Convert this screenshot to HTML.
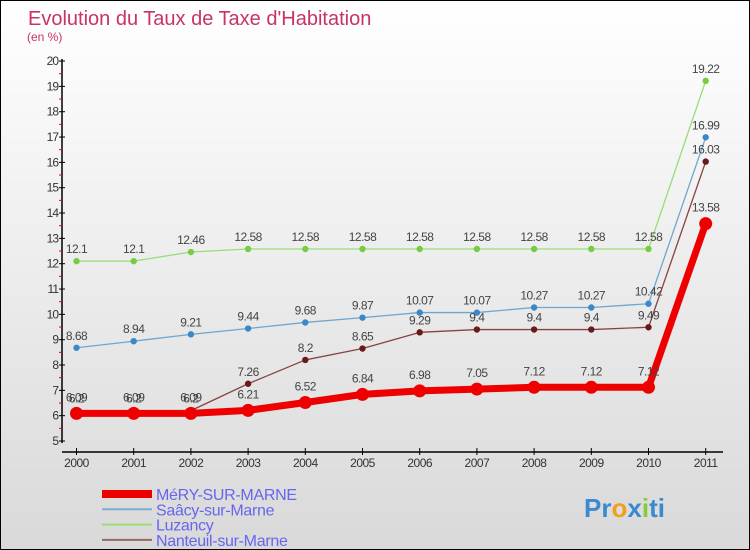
<!DOCTYPE html>
<html><head><meta charset="utf-8"><style>
body{margin:0}
#c{position:relative;width:748px;height:548px;border:1px solid #000;background:linear-gradient(#fff,#d9d9d9);font-family:"Liberation Sans",sans-serif;overflow:hidden}
</style></head><body>
<div id="c">
<svg id="s" width="748" height="548" style="position:absolute;left:0;top:0"></svg>
</div>
<script>
const years=["2000","2001","2002","2003","2004","2005","2006","2007","2008","2009","2010","2011"];
const yTicks=[5,6,7,8,9,10,11,12,13,14,15,16,17,18,19,20];
const mery=[6.09,6.09,6.09,6.21,6.52,6.84,6.98,7.05,7.12,7.12,7.12,13.58];
const saacy=[8.68,8.94,9.21,9.44,9.68,9.87,10.07,10.07,10.27,10.27,10.42,16.99];
const luzancy=[12.1,12.1,12.46,12.58,12.58,12.58,12.58,12.58,12.58,12.58,12.58,19.22];
const nanteuil=[6.2,6.2,6.2,7.26,8.2,8.65,9.29,9.4,9.4,9.4,9.49,16.03];
const names=["MéRY-SUR-MARNE","Saâcy-sur-Marne","Luzancy","Nanteuil-sur-Marne"];
const s=document.getElementById('s');const NS="http://www.w3.org/2000/svg";
function el(t,a,txt){const e=document.createElementNS(NS,t);for(const k in a)e.setAttribute(k,a[k]);if(txt!==undefined)e.textContent=txt;s.appendChild(e);return e;}
const X=i=>75.5+i*57.2, Y=v=>440-(v-5)*25.33;
let t=el('text',{x:27,y:24,fill:'#c8326a','font-size':20},'Evolution du Taux de Taxe d\'Habitation');

t=el('text',{x:26,y:40,fill:'#c8326a','font-size':12},'(en %)');

let a=el('line',{x1:61,y1:58,x2:61,y2:442,stroke:'#000','stroke-width':1.5});

a=el('line',{x1:61,y1:451,x2:722,y2:451,stroke:'#000','stroke-width':1.5});

yTicks.forEach((v,i)=>{el('line',{x1:58,x2:64,y1:Y(v),y2:Y(v),stroke:'#000'});
 if(i<yTicks.length-1)el('line',{x1:58,x2:61,y1:Y(v+0.5),y2:Y(v+0.5),stroke:'#e00'});
 const l=el('text',{x:57,y:Y(v)+4,'text-anchor':'end','font-size':12,fill:'#333','letter-spacing':'-1'},v);
 });
years.forEach((y,i)=>{el('line',{x1:X(i),x2:X(i),y1:447,y2:454,stroke:'#000'});
 const l=el('text',{x:X(i),y:466,'text-anchor':'middle','font-size':12,fill:'#333','letter-spacing':'-0.5'},y);
 });
function series(d,col,w,r,dot,nm,lblOff){
 const p=el('polyline',{points:d.map((v,i)=>X(i)+','+Y(v)).join(' '),fill:'none',stroke:col,'stroke-width':w,'stroke-linejoin':'round'});
 
 d.forEach((v,i)=>{const c=el('circle',{cx:X(i),cy:Y(v),r:r,fill:dot});
  
  const l=el('text',{x:X(i),y:Y(v)-lblOff,'text-anchor':'middle','font-size':12,fill:'#444','letter-spacing':'-0.5'},v);
  });
}
series(luzancy,'#99dd77',1.3,3.2,'#77cc44','luzancy',8);
series(saacy,'#6fa6d0',1.3,3.2,'#3a88c8','saacy',8);
series(nanteuil,'#884444',1.3,3.2,'#661a1a','nanteuil',8);
series(mery,'#ee0000',7,6.5,'#ee0000','mery',12);
const lc=[['#ee0000',8],['#7aaed0',2],['#99dd77',2],['#996666',2]];
names.forEach((n,i)=>{const y=493+i*15.3;
 const l=el('line',{x1:101,x2:151,y1:y,y2:y,stroke:lc[i][0],'stroke-width':lc[i][1]});
 
 const tx=el('text',{x:155,y:y+6,'font-size':16,fill:'#6666ee','letter-spacing':'-0.3'},n);
 });
const lg=el('text',{x:583,y:516,'font-size':26,'font-weight':'bold',fill:'#3a8ad0'},'');

[['Pr','#3a8ad0'],['o','#f0a020'],['x','#3a8ad0'],['i','#88cc33'],['ti','#3a8ad0']].forEach(p=>{const ts=document.createElementNS(NS,'tspan');ts.setAttribute('fill',p[1]);ts.textContent=p[0];lg.appendChild(ts);});
</script>
</body></html>
